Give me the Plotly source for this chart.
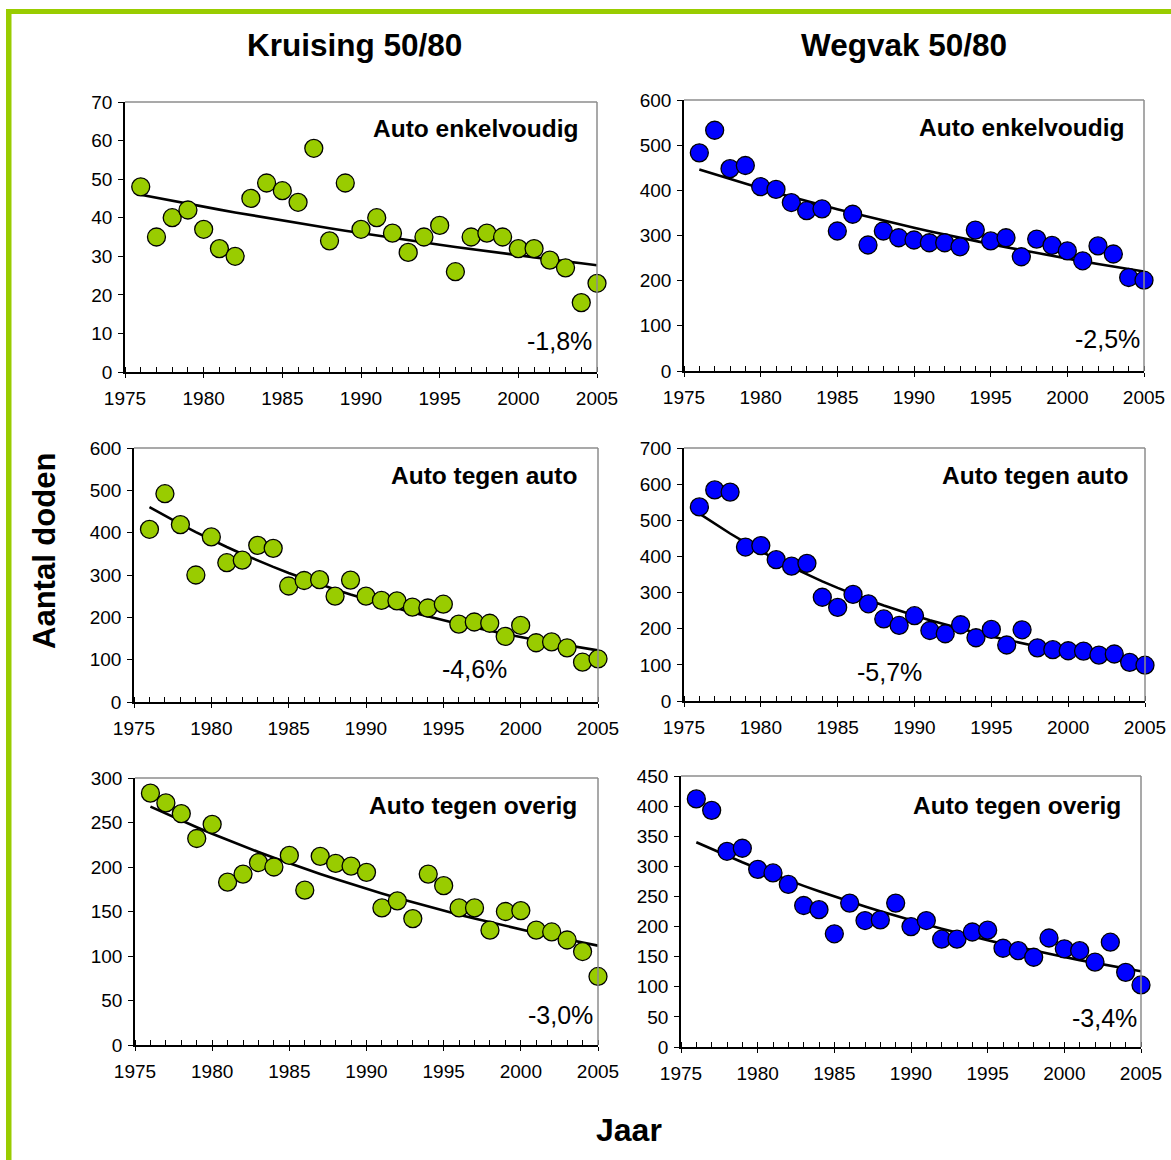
import numpy as np
import plotly.graph_objects as go

W, H = 1171, 1160

years = list(range(1976, 2006))

kruising_enkelvoudig = [48, 35, 40, 42, 37, 32, 30, 45, 49, 47, 44, 58, 34, 49, 37,
                        40, 36, 31, 35, 38, 26, 35, 36, 35, 32, 32, 29, 27, 18, 23]
wegvak_enkelvoudig = [483, 533, 448, 455, 408, 402, 373, 355, 359, 310, 347, 279, 310, 295, 290,
                      284, 284, 275, 312, 288, 295, 253, 292, 278, 266, 244, 277, 259, 207, 201]
kruising_auto = [408, 492, 419, 300, 390, 329, 335, 370, 363, 274, 287, 289, 250, 288, 250,
                 240, 239, 224, 222, 231, 184, 189, 186, 155, 181, 140, 142, 128, 94, 102]
wegvak_auto = [537, 584, 578, 426, 430, 391, 373, 381, 287, 259, 295, 269, 227, 209, 236,
               195, 186, 211, 175, 198, 155, 197, 147, 142, 139, 138, 127, 130, 107, 99]
kruising_overig = [283, 272, 260, 232, 248, 183, 192, 205, 200, 213, 174, 212, 204, 201, 194,
                   154, 162, 142, 192, 179, 154, 154, 129, 150, 151, 129, 127, 118, 105, 77]
wegvak_overig = [412, 393, 325, 330, 295, 289, 270, 235, 228, 188, 239, 210, 211, 239, 200,
                 210, 179, 179, 191, 194, 164, 160, 149, 181, 163, 160, 141, 174, 124, 103]

column_titles = ["Kruising 50/80", "Wegvak 50/80"]
panel_titles = ["Auto enkelvoudig", "Auto enkelvoudig", "Auto tegen auto", "Auto tegen auto",
                "Auto tegen overig", "Auto tegen overig"]
trend_labels = ["-1,8%", "-2,5%", "-4,6%", "-5,7%", "-3,0%", "-3,4%"]
y_max = [70, 600, 600, 700, 300, 450]
y_step = [10, 100, 100, 100, 50, 50]

series = [kruising_enkelvoudig, wegvak_enkelvoudig, kruising_auto,
          wegvak_auto, kruising_overig, wegvak_overig]

GREEN = "#99CC00"
BLUE = "#0000FF"
colors = [GREEN, BLUE, GREEN, BLUE, GREEN, BLUE]

# plot-area pixel boxes (x0, x1, y0_top, y1_bottom)
boxes = [
    (125, 597, 102, 372),
    (684, 1144, 100, 371),
    (134, 598, 448, 702),
    (684, 1145, 448, 701),
    (135, 598, 778, 1045),
    (681, 1141, 776, 1047),
]

# label positions (x, y, xanchor) in pixels
title_pos = [(581, 128, "right"), (1127, 127, "right"), (579, 475, "right"),
             (1130, 475, "right"), (579, 805, "right"), (1123, 805, "right")]
pct_pos = [(594, 341, "right"), (1142, 339, "right"), (474, 669, "center"),
           (889, 672, "center"), (595, 1015, "right"), (1139, 1018, "right")]


def px(x):
    return x / W


def py(y):
    return 1 - y / H


FONT = "Liberation Sans, Arial, sans-serif"
TICK = 19

fig = go.Figure()
layout = dict(
    width=W, height=H, autosize=False,
    margin=dict(l=0, r=0, t=0, b=0, pad=0, autoexpand=False),
    paper_bgcolor="white", plot_bgcolor="white",
    showlegend=False,
    font=dict(family=FONT, color="black", size=TICK),
)
shapes = []
annotations = []

yrs = np.array(years, dtype=float)
for i, vals in enumerate(series):
    n = i + 1
    xa = "x" if n == 1 else f"x{n}"
    ya = "y" if n == 1 else f"y{n}"
    v = np.array(vals, dtype=float)
    slope, icpt = np.polyfit(yrs, np.log(v), 1)
    trend = np.exp(icpt + slope * yrs)

    fig.add_trace(go.Scatter(
        x=years, y=list(trend), mode="lines", xaxis=xa, yaxis=ya,
        line=dict(color="black", width=2.6), cliponaxis=False, hoverinfo="skip"))
    fig.add_trace(go.Scatter(
        x=years, y=vals, mode="markers", xaxis=xa, yaxis=ya, cliponaxis=False,
        marker=dict(size=18, color=colors[i], line=dict(color="black", width=1.3))))

    x0, x1, yt, yb = boxes[i]
    xkey = "xaxis" if n == 1 else f"xaxis{n}"
    ykey = "yaxis" if n == 1 else f"yaxis{n}"
    layout[xkey] = dict(
        domain=[px(x0), px(x1)], anchor=ya, range=[1975, 2005], automargin=False,
        tickmode="linear", tick0=1975, dtick=5,
        ticks="outside", ticklen=4, tickwidth=1.3, tickcolor="black",
        ticklabelstandoff=4,
        minor=dict(ticks="inside", ticklen=5, tickwidth=1.2, tickcolor="black",
                   tickmode="linear", tick0=1975, dtick=1),
        showline=True, linecolor="black", linewidth=1.5,
        showgrid=False, zeroline=False, fixedrange=True,
        tickfont=dict(size=TICK, family=FONT, color="black"),
    )
    layout[ykey] = dict(
        domain=[py(yb), py(yt)], anchor=xa, range=[0, y_max[i]], automargin=False,
        tickmode="linear", tick0=0, dtick=y_step[i],
        ticks="outside", ticklen=5, tickwidth=1.3, tickcolor="black",
        ticklabelstandoff=2,
        showline=True, linecolor="black", linewidth=1.5,
        showgrid=False, zeroline=False, fixedrange=True,
        tickfont=dict(size=TICK, family=FONT, color="black"),
    )
    # gray plot-area border (top + right)
    shapes.append(dict(type="line", xref=f"{xa} domain", yref=f"{ya} domain",
                       x0=0, x1=1, y0=1, y1=1, line=dict(color="#8c8c8c", width=1.5)))
    shapes.append(dict(type="line", xref=f"{xa} domain", yref=f"{ya} domain",
                       x0=1, x1=1, y0=0, y1=1, line=dict(color="#8c8c8c", width=1.5)))

    tx, ty, tanc = title_pos[i]
    annotations.append(dict(text=f"<b>{panel_titles[i]}</b>", x=px(tx), y=py(ty),
                            xref="paper", yref="paper", xanchor=tanc, yanchor="middle",
                            showarrow=False, font=dict(size=24.5, family=FONT, color="black")))
    qx, qy, qanc = pct_pos[i]
    annotations.append(dict(text=trend_labels[i], x=px(qx), y=py(qy),
                            xref="paper", yref="paper", xanchor=qanc, yanchor="middle",
                            showarrow=False, font=dict(size=25, family=FONT, color="black")))

# column titles
annotations.append(dict(text=f"<b>{column_titles[0]}</b>", x=px(354), y=py(45),
                        xref="paper", yref="paper", xanchor="center", yanchor="middle",
                        showarrow=False, font=dict(size=31.5, family=FONT, color="black")))
annotations.append(dict(text=f"<b>{column_titles[1]}</b>", x=px(904), y=py(45),
                        xref="paper", yref="paper", xanchor="center", yanchor="middle",
                        showarrow=False, font=dict(size=31.5, family=FONT, color="black")))
# axis titles
annotations.append(dict(text="<b>Aantal doden</b>", x=px(44), y=py(551), textangle=-90,
                        xref="paper", yref="paper", xanchor="center", yanchor="middle",
                        showarrow=False, font=dict(size=31, family=FONT, color="black")))
annotations.append(dict(text="<b>Jaar</b>", x=px(629), y=py(1130),
                        xref="paper", yref="paper", xanchor="center", yanchor="middle",
                        showarrow=False, font=dict(size=32, family=FONT, color="black")))

# green frame (left + top)
shapes.append(dict(type="rect", xref="paper", yref="paper", x0=px(6), x1=px(11.5),
                   y0=py(1160), y1=py(9), fillcolor=GREEN, line=dict(width=0), layer="below"))
shapes.append(dict(type="rect", xref="paper", yref="paper", x0=px(6), x1=px(1171),
                   y0=py(14), y1=py(9), fillcolor=GREEN, line=dict(width=0), layer="below"))

layout["shapes"] = shapes
layout["annotations"] = annotations
fig.update_layout(**layout)

fig.write_html("out.html", config={"displayModeBar": False})
